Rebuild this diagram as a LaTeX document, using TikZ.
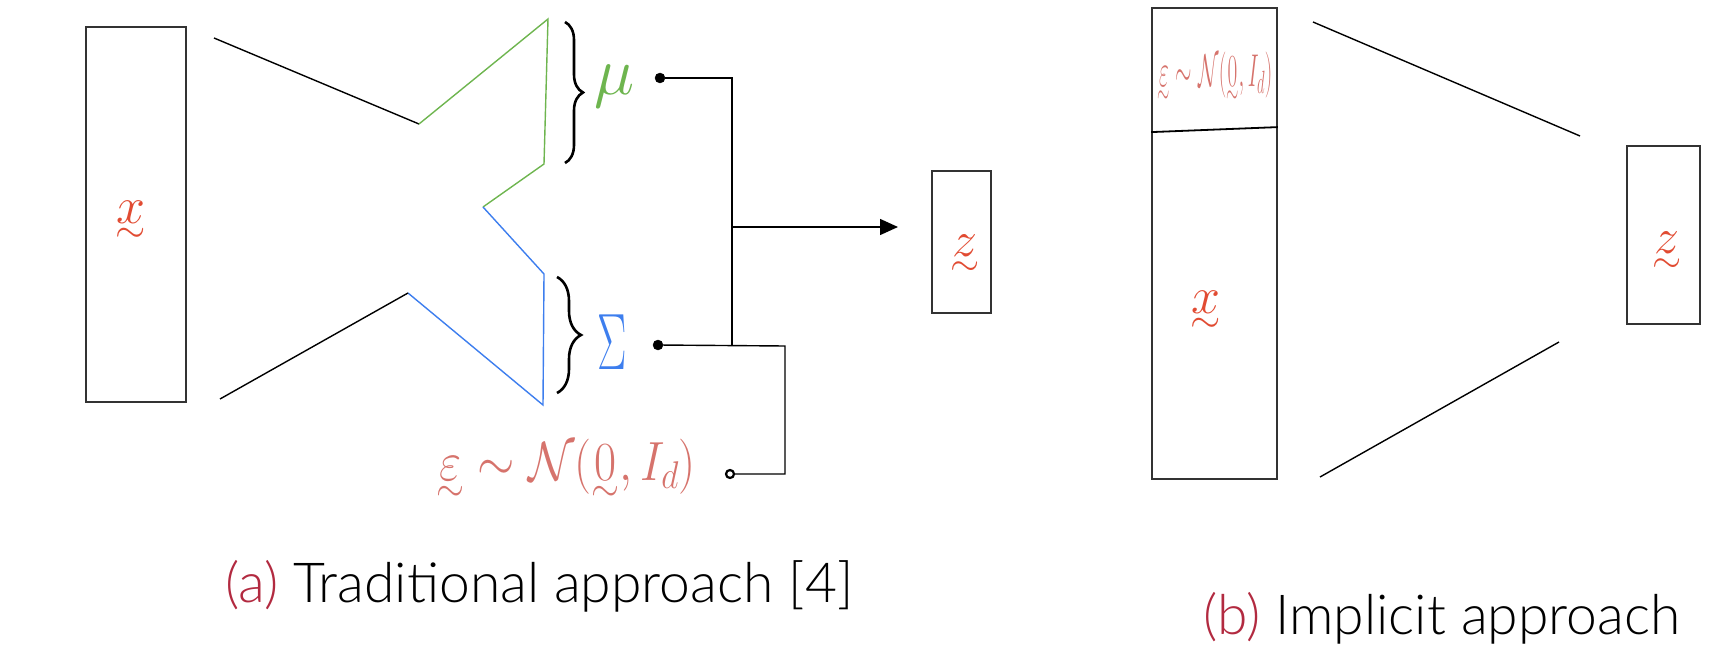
\RequirePackage{fix-cm}
\documentclass[tikz,border=0pt]{standalone}
\usepackage{amsmath}
\usepackage{graphicx}
\usepackage{fontspec}
\newfontfamily\capfont{Lato Light}
\usetikzlibrary{arrows.meta,decorations.pathreplacing}
\definecolor{xred}{HTML}{E14B32}
\definecolor{epsred}{HTML}{D6736C}
\definecolor{mugreen}{HTML}{6EB54F}
\definecolor{sigblue}{HTML}{3D7EEE}
\definecolor{capred}{HTML}{B22A40}
\definecolor{boxgray}{HTML}{333333}
\newcommand{\utl}[1]{\mathord{\vtop{\offinterlineskip\halign{\hfil##\hfil\cr$#1$\cr\noalign{\kern0.1em}\scalebox{0.75}{$\sim$}\cr}}}}
\tikzset{
  box/.style={draw=boxgray, line width=1.8pt, inner sep=0pt},
  funnel/.style={line width=1.4pt, line join=miter},
  wire/.style={line width=1.4pt},
  hand/.style={inner sep=0pt},
  dotnode/.style={circle, fill=black, draw=black, inner sep=0pt, minimum size=10pt},
  ringnode/.style={circle, fill=white, draw=black, line width=2.2pt, inner sep=0pt, minimum size=8pt},
  curly/.style={line width=2.6pt, decorate},
  caption/.style={inner sep=0pt, anchor=base west, font=\capfont\fontsize{55.2}{60}\selectfont}
}
\begin{document}
\begin{tikzpicture}[x=1pt,y=-1pt]
\useasboundingbox (0,0) rectangle (1724,655);
% ---------- (a) traditional ----------
\node[box, minimum width=100pt, minimum height=375pt] (xa) at (136,214.5) {};
\node[hand, text=xred, font=\fontsize{52}{52}\selectfont] (xalab) at (131,222) {$\utl{x}$};
\coordinate (a1) at (214,38);
\coordinate (a2) at (419,124);
\coordinate (a3) at (548,19);
\coordinate (a4) at (544,164);
\coordinate (a5) at (483,207);
\coordinate (a6) at (544,274);
\coordinate (a7) at (543,405);
\coordinate (a8) at (408,293);
\coordinate (a9) at (220,399);
\draw[funnel] (a1) -- (a2);
\draw[funnel, mugreen] (a2) -- (a3) -- (a4) -- (a5);
\draw[funnel, sigblue] (a5) -- (a6) -- (a7) -- (a8);
\draw[funnel] (a8) -- (a9);
% braces
\coordinate (b1s) at (565,22);
\coordinate (b1e) at (565,163);
\coordinate (b2s) at (557,277);
\coordinate (b2e) at (557,393);
\draw[curly, decoration={brace, amplitude=18pt}] (b1s) -- (b1e);
\draw[curly, decoration={brace, amplitude=24pt}] (b2s) -- (b2e);
\node[hand, text=mugreen, font=\fontsize{68}{68}\selectfont] (mulab) at (615,86) {$\mu$};
\node[hand, text=sigblue, font=\fontsize{80}{80}\selectfont] (siglab) at (612,342) {\scalebox{0.55}[1]{$\Sigma$}};
\node[hand, text=epsred, font=\fontsize{48}{48}\selectfont] (epslab) at (566,470) {\scalebox{1}[1.15]{$\utl{\varepsilon} \sim \mathcal{N}(\utl{0}, I_d)$}};
% dots and wires
\node[dotnode] (mudot) at (660,78) {};
\node[dotnode] (sigdot) at (658,345) {};
\node[ringnode] (epsdot) at (730,474) {};
\coordinate (jb) at (732,346);
\coordinate (jc) at (785,346);
\coordinate (jm) at (732,227);
\draw[wire] (mudot) -| (jb);
\draw[wire] (sigdot) -- (jc) |- (epsdot);
% z box
\node[box, minimum width=59pt, minimum height=142pt] (za) at (961.5,242) {};
\node[hand, text=xred, font=\fontsize{50}{50}\selectfont] (zalab) at (965,255) {$\utl{z}$};
\coordinate (arrowend) at (898,227);
\draw[wire, -{Triangle[length=18pt,width=16pt]}] (jm) -- (arrowend);
% ---------- (b) implicit ----------
\node[box, minimum width=125pt, minimum height=471pt] (xb) at (1214.5,243.5) {};
\draw[line width=1.8pt] ([yshift=-125pt]xb.north west) -- ([yshift=-120pt]xb.north east);
\node[hand, text=epsred, font=\fontsize{46}{46}\selectfont] (epsb) at (1215,78) {\scalebox{0.46}[1]{$\utl{\varepsilon} \sim \mathcal{N}(\utl{0}, I_d)$}};
\node[hand, text=xred, font=\fontsize{52}{52}\selectfont] (xblab) at (1206,312) {$\utl{x}$};
\coordinate (c1) at (1313,22);
\coordinate (c2) at (1580,136);
\coordinate (c3) at (1320,477);
\coordinate (c4) at (1559,342);
\draw[funnel] (c1) -- (c2);
\draw[funnel] (c3) -- (c4);
\node[box, minimum width=73pt, minimum height=178pt] (zb) at (1663.5,235) {};
\node[hand, text=xred, font=\fontsize{50}{50}\selectfont] (zblab) at (1667,252) {$\utl{z}$};
% ---------- captions ----------
\node[caption] (capa) at (225,602) {\textcolor{capred}{(a)} Traditional approach [4]};
\node[caption] (capb) at (1203,634) {\textcolor{capred}{(b)} Implicit approach};
\end{tikzpicture}
\end{document}
